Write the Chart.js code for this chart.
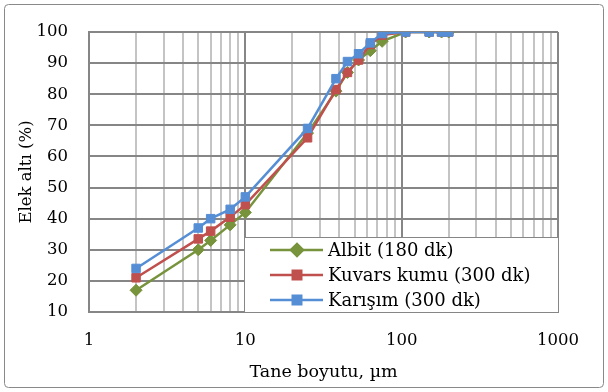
<!DOCTYPE html>
<html>
<head>
<meta charset="utf-8">
<script src="https://cdn.jsdelivr.net/npm/chart.js@4.4.1/dist/chart.umd.min.js"></script>
<style>
  html, body { margin: 0; padding: 0; background: #fff; }
  #wrap { width: 608px; height: 392px; position: relative; }
</style>
</head>
<body>
<div id="wrap"><canvas id="myChart" width="608" height="392"></canvas></div>
<script>
// particle sizes (µm) and cumulative passing (%)
var sizes = [2, 5, 6, 8, 10, 25, 38, 45, 53, 63, 75, 106, 150, 180, 200];
var albit = [17, 30, 33, 38, 42, 67.5, 81, 87, 91, 94, 97, 100, 100, 100, 100];
var kuvars = [21, 33.5, 36, 40.5, 44.5, 66, 81.5, 87, 91, 96, 99, 100, 100, 100, 100];
var karisim = [24, 37, 40, 43, 47, 69, 85, 90.5, 93, 96.5, 99.5, 100, 100, 100, 100];
var seriesNames = ["Albit (180 dk)", "Kuvars kumu (300 dk)", "Karışım (300 dk)"];
var xTickLabels = ["1", "10", "100", "1000"];

var FONT = "'DejaVu Serif', serif";

function pts(ys) {
    return sizes.map(function (s, i) { return { x: s, y: ys[i] }; });
}

var colors = ['#77933C', '#C0504D', '#558ED5'];
var shapes = ['rectRot', 'rect', 'rect'];

// white legend box inside the plot, bottom right
var boxLegend = {
    id: 'boxLegend',
    afterDraw: function (chart) {
        var c = chart.ctx, a = chart.chartArea;
        var left = a.left + 155, top = a.bottom - 75, right = a.right + 1, bottom = a.bottom;
        c.save();
        c.fillStyle = '#fff';
        c.fillRect(left, top, right - left, bottom - top);
        c.strokeStyle = '#868686';
        c.lineWidth = 1;
        c.strokeRect(left + 0.5, top + 0.5, right - left - 1, bottom - top);
        c.font = '18px ' + FONT;
        c.textBaseline = 'middle';
        chart.data.datasets.forEach(function (ds, i) {
            var y = top + 13 + i * 25;
            c.strokeStyle = ds.borderColor;
            c.lineWidth = 2.5;
            c.beginPath();
            c.moveTo(left + 26, y);
            c.lineTo(left + 79, y);
            c.stroke();
            Chart.helpers.drawPoint(c, {
                pointStyle: ds.pointStyle, radius: ds.pointRadius, borderWidth: 1, rotation: 0
            }, left + 53, y);
            c.fillStyle = ds.borderColor;
            c.fill();
            c.fillStyle = '#000';
            c.fillText(seriesNames[i], left + 84, y + 1);
        });
        c.restore();
    }
};

// thin rounded border around the whole chart
var outerBorder = {
    id: 'outerBorder',
    beforeDraw: function (chart) {
        var c = chart.ctx;
        c.save();
        c.fillStyle = '#fff';
        c.fillRect(0, 0, chart.width, chart.height);
        c.strokeStyle = '#898989';
        c.lineWidth = 1;
        c.beginPath();
        c.roundRect(4.5, 4.5, chart.width - 9, chart.height - 9, 4);
        c.stroke();
        c.restore();
    }
};

var ctx = document.getElementById("myChart").getContext('2d');
var myChart = new Chart(ctx, {
    type: 'scatter',
    data: {
        datasets: [albit, kuvars, karisim].map(function (ys, i) {
            return {
                label: seriesNames[i],
                data: pts(ys),
                showLine: true,
                borderColor: colors[i],
                backgroundColor: colors[i],
                borderWidth: 2.5,
                pointStyle: shapes[i],
                pointRadius: 6,
                pointBorderWidth: 1,
                order: 3 - i
            };
        })
    },
    options: {
        responsive: false,
        animation: false,
        layout: { padding: { top: 32, right: 50, left: 0, bottom: 4 } },
        plugins: {
            legend: { display: false },
            tooltip: { enabled: false }
        },
        scales: {
            x: {
                type: 'logarithmic',
                min: 1,
                max: 1000,
                afterBuildTicks: function (scale) {
                    var t = [];
                    [1, 10, 100].forEach(function (d) {
                        for (var k = 1; k < 10; k++) t.push({ value: d * k });
                    });
                    t.push({ value: 1000 });
                    scale.ticks = t;
                },
                afterFit: function (scale) { scale.height = 76; },
                grid: {
                    drawTicks: false,
                    color: function (c) {
                        var v = c.tick && c.tick.value;
                        return xTickLabels.indexOf(String(v)) >= 0 ? '#868686' : '#C4C4C4';
                    },
                    lineWidth: 2
                },
                border: { color: '#868686', width: 2 },
                ticks: {
                    autoSkip: false,
                    maxRotation: 0,
                    padding: 19,
                    color: '#000',
                    font: { family: FONT, size: 16.5 },
                    callback: function (v) {
                        return xTickLabels.indexOf(String(v)) >= 0 ? String(v) : '';
                    }
                },
                title: {
                    display: true,
                    text: 'Tane boyutu, µm',
                    color: '#000',
                    font: { family: FONT, size: 17.5 },
                    padding: { top: 0, bottom: 5 }
                }
            },
            y: {
                min: 10,
                max: 100,
                afterFit: function (scale) { scale.width = 89; },
                grid: { drawTicks: false, color: '#868686', lineWidth: 2 },
                border: { color: '#868686', width: 2 },
                ticks: {
                    stepSize: 10,
                    padding: 21,
                    color: '#000',
                    font: { family: FONT, size: 16.5 }
                },
                title: {
                    display: true,
                    text: 'Elek altı (%)',
                    color: '#000',
                    font: { family: FONT, size: 16.5 },
                    padding: { top: 17, bottom: 0 }
                }
            }
        }
    },
    plugins: [outerBorder, boxLegend]
});
</script>
</body>
</html>
